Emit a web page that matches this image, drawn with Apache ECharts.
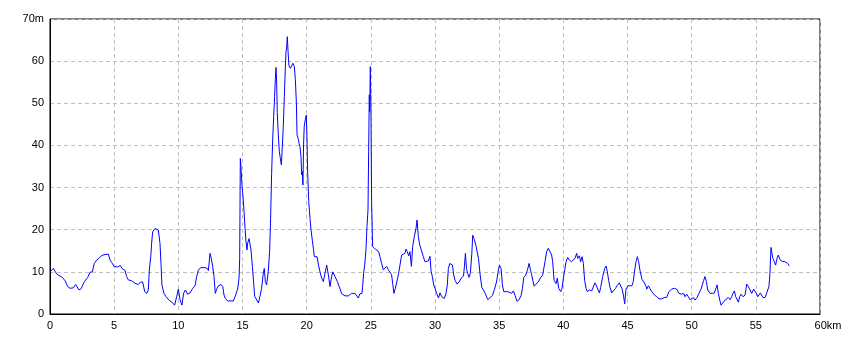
<!DOCTYPE html>
<html>
<head>
<meta charset="utf-8">
<title>elevation profile</title>
<script src="https://cdn.jsdelivr.net/npm/echarts@6/dist/echarts.min.js"></script>
<style>
  html, body { margin: 0; padding: 0; background: #fff; }
  #myChart { width: 860px; height: 344px; }
</style>
</head>
<body>
<div id="myChart"></div>
<script>
// 距離 (km)
var dist = [
  0, 0.08, 0.26, 0.52, 0.78, 0.96, 1.17, 1.38, 1.56, 1.82, 2.0, 2.13, 2.26, 2.42, 2.68, 2.94, 3.12, 3.3, 3.45, 3.64,
  3.82, 4.03, 4.29, 4.55, 4.68, 4.81, 5.01, 5.27, 5.48, 5.64, 5.84, 5.97, 6.1, 6.36, 6.62, 6.88, 7.06,
  7.22, 7.38, 7.54, 7.66, 7.74, 7.85, 7.92, 8.0, 8.18, 8.3, 8.44, 8.57, 8.65, 8.72, 8.88, 9.04, 9.3, 9.5, 9.71,
  9.87, 10.0, 10.13, 10.28, 10.41, 10.55, 10.73, 10.91, 11.12, 11.3, 11.43, 11.56, 11.74, 12.08, 12.26, 12.34,
  12.47, 12.57, 12.68, 12.78, 12.88, 12.99, 13.12, 13.33, 13.46, 13.56, 13.66,
  13.84, 14.29, 14.47, 14.62, 14.73, 14.78, 14.83, 14.88, 14.94, 15.04, 15.12, 15.2, 15.27, 15.35, 15.4, 15.51,
  15.61, 15.66, 15.77, 15.87, 15.95, 16.1, 16.24, 16.36, 16.49, 16.62, 16.7, 16.78, 16.88, 16.96, 17.01, 17.12,
  17.19, 17.27, 17.35, 17.43, 17.5, 17.56, 17.61, 17.66, 17.71, 17.79, 17.87, 17.95, 18.03, 18.1, 18.18, 18.26,
  18.34, 18.39, 18.44, 18.49, 18.55, 18.62, 18.73, 18.83, 18.93, 19.04, 19.12, 19.2, 19.25, 19.33, 19.41, 19.48,
  19.56, 19.61, 19.66, 19.71, 19.76, 19.81, 19.89, 19.97, 20.02, 20.08, 20.16, 20.26, 20.34, 20.44, 20.52, 20.6,
  20.71, 20.81, 20.92,
  21.04, 21.17, 21.3, 21.43, 21.56, 21.69, 21.82, 21.9, 22.03, 22.21, 22.39, 22.54, 22.73, 22.99, 23.25, 23.5,
  23.76, 23.89, 24.02, 24.15, 24.31, 24.36, 24.44, 24.52, 24.62, 24.7, 24.78, 24.83, 24.88, 24.91, 24.96, 25.01,
  25.06, 25.14, 25.24, 25.35, 25.5, 25.61, 25.71, 25.84, 25.97, 26.1, 26.23, 26.36, 26.49, 26.62, 26.7, 26.8,
  26.91, 27.06, 27.17, 27.27, 27.4, 27.53, 27.66, 27.74, 27.84, 27.95, 28.05, 28.16, 28.26, 28.39,
  28.52, 28.6, 28.7, 28.81, 28.96, 29.09, 29.22, 29.48, 29.61, 29.69, 29.79, 29.9, 30.0, 30.13, 30.27, 30.39,
  30.52, 30.73, 30.86, 30.96, 31.04, 31.15, 31.25, 31.36, 31.46, 31.56, 31.72, 31.88, 32.03, 32.22, 32.29, 32.37,
  32.45, 32.55, 32.66, 32.76, 32.87, 32.94, 33.07, 33.18, 33.28, 33.39, 33.52, 33.65, 33.78, 33.91, 34.11, 34.3,
  34.48, 34.63, 34.79, 34.94, 35.02, 35.15, 35.25, 35.36, 35.46, 35.67, 35.82, 35.98, 36.11, 36.24, 36.39, 36.55,
  36.71, 36.81, 36.92, 37.07, 37.2, 37.33, 37.43,
  37.54, 37.72, 37.87, 38.05, 38.24, 38.39, 38.5, 38.57, 38.7, 38.83, 38.96, 39.09, 39.17, 39.28, 39.43, 39.53,
  39.64, 39.8, 39.9, 40.0, 40.11, 40.21, 40.34, 40.47, 40.63, 40.78, 40.91, 41.04, 41.12, 41.25, 41.35, 41.46,
  41.56, 41.66, 41.77, 41.87, 42.03, 42.21, 42.34, 42.47, 42.55, 42.68, 42.81, 42.91, 43.07, 43.22, 43.33, 43.43,
  43.53, 43.64, 43.77, 43.9, 44.05, 44.21, 44.36, 44.47, 44.57, 44.68, 44.78, 44.88, 45.04, 45.19, 45.35, 45.45,
  45.56, 45.66, 45.77, 45.87, 45.97, 46.13, 46.28, 46.44,
  46.5, 46.63, 46.76, 46.89, 47.1, 47.28, 47.46, 47.66, 47.87, 48.05, 48.23, 48.44, 48.65, 48.83, 49.0, 49.2,
  49.38, 49.48, 49.61, 49.74, 49.87, 50.0, 50.13, 50.26, 50.42, 50.57, 50.73, 50.83, 50.94, 51.04, 51.15, 51.25,
  51.43, 51.61, 51.77, 51.87, 51.98, 52.08, 52.19, 52.29, 52.44, 52.6, 52.73, 52.86, 52.99, 53.12, 53.22, 53.33,
  53.43, 53.54, 53.64, 53.74, 53.85, 54.0, 54.16, 54.29, 54.42, 54.55, 54.68, 54.83, 54.94, 55.04, 55.15, 55.25,
  55.35, 55.46, 55.56, 55.72, 55.87, 56.02, 56.1, 56.18, 56.26, 56.33, 56.44, 56.54, 56.65, 56.75, 56.88, 57.06,
  57.27, 57.48, 57.61
]
// 標高 (m)
var elev = [
  10.0, 10.3, 10.8, 9.5, 9.0, 8.7, 7.9, 6.5, 6.1, 6.2, 7.0, 6.9, 5.7, 6.0, 7.7, 8.7, 9.9, 10.0, 12.0, 12.8,
  13.2, 13.9, 14.1, 14.2, 12.8, 12.2, 11.2, 11.2, 11.5, 10.7, 10.4, 8.9, 8.1, 7.9, 7.3, 7.0, 7.6,
  7.6, 5.3, 4.9, 5.7, 10.4, 13.6, 16.8, 19.5, 20.3, 20.5, 19.9, 16.8, 12.0, 6.9, 4.9, 4.1, 3.2, 2.8, 2.1,
  4.1, 5.9, 3.4, 2.1, 4.9, 5.7, 4.7, 5.0, 6.1, 6.7, 8.9, 10.4, 11.0, 11.0, 10.8, 10.3,
  14.4, 13.2, 11.2, 8.9, 4.9, 5.9, 6.7, 7.0, 6.5, 4.5, 3.7,
  3.1, 3.1, 4.5, 5.9, 8.5, 13.2, 36.9, 35.0, 31.4, 27.8, 24.3, 20.3, 17.2, 15.2, 16.8, 17.9,
  17.9, 15.2, 11.3, 7.3, 4.2, 3.8, 2.6, 4.2, 6.1, 9.7, 10.8, 7.7, 6.9, 7.3, 10.1, 15.2,
  22.7, 33.4, 41.3, 46.8, 51.6, 55.9, 58.5, 55.1, 47.8, 42.5, 38.5, 36.9, 35.4, 39.7, 44.5, 51.6,
  58.7, 62.3, 63.1, 65.8, 62.3, 58.9, 58.3, 58.1, 59.5, 58.7, 55.6, 50.0, 42.5, 41.7, 40.5, 39.7,
  37.3, 33.0, 33.8, 30.6, 40.3, 44.5, 46.1, 47.2, 42.5, 33.4, 26.7, 22.7, 19.9, 17.5, 15.6, 13.6,
  14.0, 13.6, 11.6,
  10.0, 8.5, 7.7, 9.7, 11.6, 9.3, 6.5, 8.1, 10.0, 8.9, 7.7, 6.5, 4.8, 4.3, 4.3, 4.9,
  4.9, 4.5, 3.8, 4.8, 4.9, 6.5, 9.7, 11.6, 15.2, 20.7, 24.7, 38.5, 52.0, 48.0, 58.7, 48.0,
  26.7, 16.0, 16.0, 15.4, 15.2, 14.8, 13.6, 12.0, 10.5, 10.4, 11.3, 10.5, 10.6, 9.3, 7.3, 4.9,
  6.1, 8.1, 9.7, 11.6, 14.0, 14.4, 14.4, 15.4, 14.8, 13.8, 14.8, 11.3, 16.0, 18.4,
  20.3, 22.3, 18.4, 16.4, 16.0, 13.6, 12.4, 12.6, 13.7, 10.3, 8.9, 6.9, 6.1, 4.9, 3.8, 5.0,
  4.1, 3.7, 4.9, 6.9, 10.8, 12.0, 12.4, 11.6, 9.2, 8.0, 7.1, 7.6, 8.5, 9.0, 11.2, 14.4,
  10.8, 9.6, 8.7, 9.8, 14.4, 18.7, 17.6, 16.4, 14.8, 13.2, 9.2, 6.3, 5.7, 4.9, 3.4, 3.9,
  4.4, 5.8, 7.6, 10.4, 11.6, 10.8, 6.9, 5.3, 4.9, 5.3, 5.7, 4.9, 5.5, 4.4, 3.0, 3.4,
  4.4, 6.0, 8.7, 9.2, 10.4, 12.0, 10.6,
  9.2, 6.6, 6.3, 7.6, 8.7, 9.2, 9.2, 12.4, 14.8, 15.6, 15.3, 14.0, 12.4, 8.0, 7.2, 8.5,
  6.1, 5.3, 6.1, 8.5, 10.4, 12.4, 13.4, 12.8, 12.4, 12.8, 13.2, 14.4, 13.2, 13.8, 12.4, 13.6,
  12.0, 8.0, 6.1, 5.3, 5.7, 5.5, 5.4, 7.4, 6.9, 5.9, 5.0, 6.3, 8.9, 10.8, 11.4, 10.0,
  8.0, 6.3, 5.0, 5.5, 6.0, 6.8, 7.4, 7.2, 6.0, 4.5, 2.4, 5.9, 6.7, 6.9, 6.7, 7.7,
  10.4, 12.4, 13.6, 12.4, 10.4, 8.2, 7.6, 6.6,
  5.9, 6.7, 6.9, 5.3, 4.5, 4.1, 3.6, 3.6, 3.9, 3.9, 5.3, 5.9, 6.1, 5.9, 4.9, 4.7,
  4.9, 4.1, 4.7, 4.1, 3.4, 3.1, 3.9, 3.3, 3.9, 4.9, 5.9, 6.9, 8.0, 8.9, 7.7, 5.7,
  4.9, 4.9, 5.0, 5.9, 6.9, 4.9, 3.3, 2.1, 2.1, 3.3, 3.7, 3.9, 3.4, 4.1, 4.9, 5.5,
  4.1, 3.7, 2.8, 4.1, 4.7, 4.1, 4.5, 7.1, 6.5, 5.7, 4.9, 5.9, 6.3, 4.9, 4.1, 4.5,
  5.0, 5.3, 3.9, 3.9, 4.1, 6.5, 9.6, 15.8, 14.4, 13.2, 12.4, 11.6, 13.2, 14.0, 12.9, 12.5,
  12.4, 12.0, 11.4
]
// 目盛り
var xTicks = [0, 5, 10, 15, 20, 25, 30, 35, 40, 45, 50, 55, 60]
var yTicks = [0, 10, 20, 30, 40, 50, 60, 70]

var points = dist.map(function (d, i) { return [d, elev[i]] })

var labelFont = {
  color: '#000',
  fontSize: 11,
  fontFamily: 'Liberation Sans'
}

var myChart = echarts.init(document.getElementById('myChart'))
myChart.setOption({
  animation: false,
  grid: {
    left: 50,
    right: 40,
    top: 19,
    bottom: 30,
    show: true,
    borderColor: '#000',
    borderWidth: 1
  },
  xAxis: {
    type: 'value',
    min: xTicks[0],
    max: xTicks[xTicks.length - 1],
    interval: 5,
    axisLine: { lineStyle: { color: '#000' } },
    axisTick: { show: false },
    splitLine: { lineStyle: { color: '#c0c0c0', type: [4, 3] } },
    axisLabel: Object.assign({
      margin: 6,
      formatter: function (v) {
        return v === 60 ? '{u|60km}' : String(v)
      },
      rich: { u: { padding: [0, 0, 0, 16], fontSize: 11, color: '#000', fontFamily: 'Liberation Sans' } }
    }, labelFont)
  },
  yAxis: {
    type: 'value',
    min: yTicks[0],
    max: yTicks[yTicks.length - 1],
    interval: 10,
    axisLine: { show: true, lineStyle: { color: '#000' } },
    axisTick: { show: false },
    splitLine: { lineStyle: { color: '#c0c0c0', type: [4, 3] } },
    axisLabel: Object.assign({
      margin: 6,
      formatter: function (v) {
        return v === 70 ? '70m' : String(v)
      }
    }, labelFont)
  },
  series: [
    {
      type: 'line',
      data: points,
      showSymbol: false,
      symbol: 'none',
      lineStyle: { color: '#0000ff', width: 1 }
    }
  ]
})
</script>
</body>
</html>
